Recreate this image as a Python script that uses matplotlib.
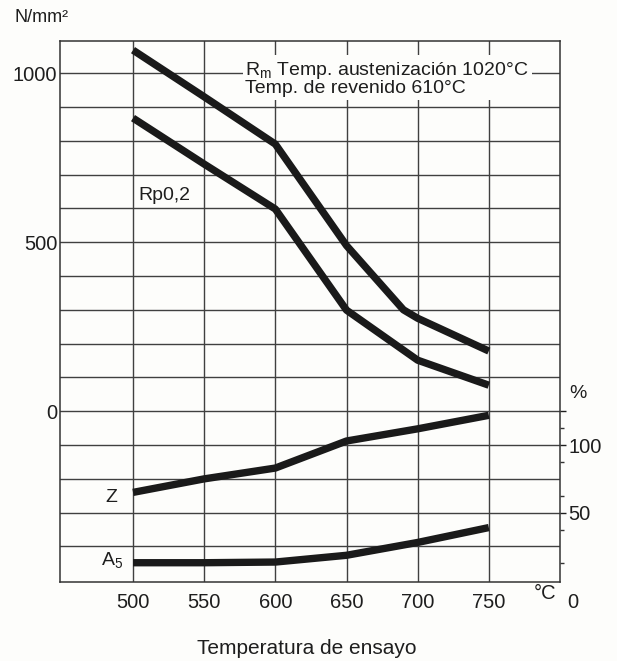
import matplotlib
matplotlib.use("Agg")
import matplotlib.pyplot as plt

plt.rcParams['font.family'] = ['Liberation Sans', 'DejaVu Sans']
plt.rcParams['mathtext.fontset'] = 'custom'
plt.rcParams['mathtext.rm'] = 'Liberation Sans'
plt.rcParams['mathtext.it'] = 'Liberation Sans:italic'

# temperatures (°C) and strengths (N/mm2)
temp_rm = [500, 550, 600, 650, 690, 700, 750]
rm = [1068, 930, 790, 490, 300, 275, 178]

temp_rp = [500, 550, 600, 650, 700, 750]
rp = [867, 731, 598, 299, 151, 77]

# reduction of area Z and elongation A5 in %
temp_pct = [500, 550, 600, 650, 700, 750]
z = [65, 75, 83, 103, 112, 122]
a5 = [13, 13, 13.5, 18.5, 28, 39]

temp_ticks = [500, 550, 600, 650, 700, 750]
strength_grid = list(range(-400, 1001, 100))
strength_labels = {0: '0', 500: '500', 1000: '1000'}

ink = '#1a1a1a'
txt = '#1e1e1e'
grid_col = '#404040'
paper = '#fdfdfb'

fig = plt.figure(figsize=(6.17, 6.61), dpi=100)
fig.patch.set_facecolor(paper)
ax = fig.add_axes([60 / 617, 79 / 661, 500 / 617, 541 / 661])
ax.set_facecolor(paper)

ax.set_xlim(448.7, 800)
ax.set_ylim(-505, 1095)

ax.set_xticks(temp_ticks)
ax.set_xticklabels([str(t) for t in temp_ticks])
ax.set_yticks(strength_grid)
ax.set_yticklabels([strength_labels.get(v, '') for v in strength_grid])
ax.tick_params(axis='both', length=0, labelsize=14.5, colors=txt)
ax.tick_params(axis='x', pad=8)
ax.tick_params(axis='y', pad=2)
ax.grid(True, color=grid_col, linewidth=1.0)
for s in ax.spines.values():
    s.set_color('#333333')
    s.set_linewidth(1.1)

ax.plot(temp_rm, rm, color=ink, linewidth=5.3, solid_joinstyle='round',
        solid_capstyle='butt', zorder=4)
ax.plot(temp_rp, rp, color=ink, linewidth=5.3, solid_joinstyle='round',
        solid_capstyle='butt', zorder=4)

# header text with white box hiding the grid behind it
ax.text(579, 985, 'R$_\\mathrm{m}$ Temp. austenización 1020°C\nTemp. de revenido 610°C',
        ha='left', va='center', fontsize=14, linespacing=0.95, color=txt,
        bbox=dict(facecolor=paper, edgecolor='none', pad=2), zorder=5)
ax.text(522, 639, 'Rp0,2', ha='center', va='center', fontsize=14, color=txt)

# percent scale on the right
ax2 = ax.twinx()
ax2.set_ylim((-505 + 500) / 4, (1095 + 500) / 4)
ax2.plot(temp_pct, z, color=ink, linewidth=5.3, solid_joinstyle='round',
         solid_capstyle='butt', zorder=4)
ax2.plot(temp_pct, a5, color=ink, linewidth=5.3, solid_joinstyle='round',
         solid_capstyle='butt', zorder=4)
ax2.set_yticks([50, 100, 125])
ax2.set_yticklabels(['50', '100', ''])
ax2.set_yticks([12.5, 37.5, 62.5, 87.5, 112.5], minor=True)
ax2.tick_params(axis='y', which='major', direction='out', length=4, width=1,
                labelsize=14.5, pad=2, colors=txt)
ax2.tick_params(axis='y', which='minor', direction='out', length=3, width=1,
                colors='#333333')
for s in ax2.spines.values():
    s.set_visible(False)

ax2.text(485, 61.5, 'Z', ha='center', va='center', fontsize=14, color=txt)
ax2.text(485, 14.8, 'A$_5$', ha='center', va='center', fontsize=14, color=txt)

ax.text(1.036, 0.349, '%', transform=ax.transAxes, ha='center', va='center',
        fontsize=14, color=txt)
ax.text(1.026, -0.037, '0', transform=ax.transAxes, ha='center', va='center',
        fontsize=14.5, color=txt)
ax.text(0.97, -0.021, '°C', transform=ax.transAxes, ha='center', va='center',
        fontsize=14.5, color=txt)
fig.text(15 / 617, 1 - 18 / 661, 'N/mm²', ha='left', va='center', fontsize=13,
         color=txt)
fig.text(307 / 617, 1 - 648 / 661, 'Temperatura de ensayo', ha='center', va='center',
         fontsize=15, color=txt)

fig.savefig('out.png', dpi=100, facecolor=fig.get_facecolor())
